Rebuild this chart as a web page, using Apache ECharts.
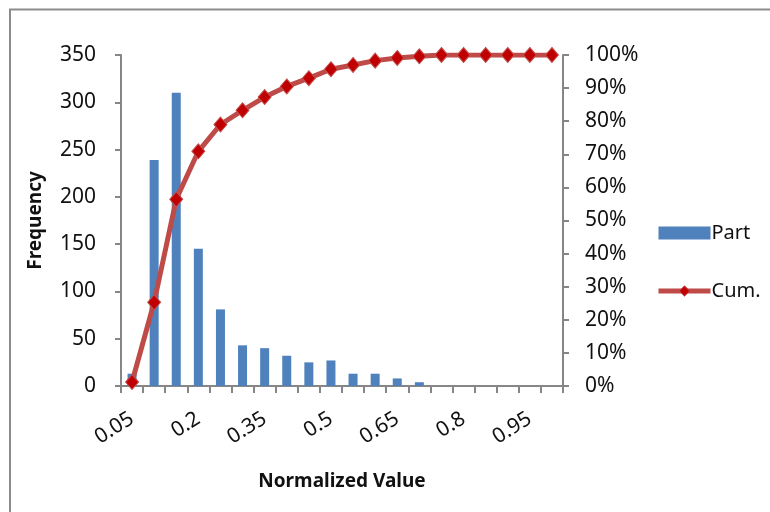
<!DOCTYPE html>
<html>
<head>
<meta charset="utf-8">
<script src="https://cdn.jsdelivr.net/npm/echarts@6/dist/echarts.min.js"></script>
<style>
html,body{margin:0;padding:0;background:#fff;}
#c{width:770px;height:512px;}
</style>
</head>
<body>
<div id="c"></div>
<script>
var categories = ['0.05','0.1','0.15','0.2','0.25','0.3','0.35','0.4','0.45','0.5','0.55','0.6','0.65','0.7','0.75','0.8','0.85','0.9','0.95','1'];
var partValues = [13, 239, 310, 145, 81, 43, 40, 32, 25, 27, 13, 13, 8, 4, 0, 0, 0, 0, 0, 0];
var cumValues = [1.2, 25.3, 56.4, 70.9, 79.0, 83.3, 87.3, 90.5, 93.0, 95.7, 97.0, 98.3, 99.1, 99.6, 100, 100, 100, 100, 100, 100];
var leftTicks = {min: 0, max: 350, interval: 50};
var rightTicks = {min: 0, max: 100, interval: 10};

var FONT = '"Noto Sans", "Open Sans", sans-serif';
var chart = echarts.init(document.getElementById('c'), null, {renderer: 'canvas'});
chart.setOption({
  animation: false,
  backgroundColor: '#fff',
  graphic: [{
    type: 'rect', silent: true,
    shape: {x: 10, y: 9.5, width: 800, height: 600},
    style: {fill: 'none', stroke: '#8c8c8c', lineWidth: 2}
  }],
  grid: {left: 121, right: 207, top: 55, bottom: 126, containLabel: false},
  legend: {
    orient: 'vertical',
    left: 651, top: 218,
    itemWidth: 52, itemHeight: 13, itemGap: 38,
    textStyle: {fontFamily: FONT, fontSize: 20, color: '#111', padding: [0,0,0,-4]},
    data: [
      {name: 'Part', icon: 'rect'},
      {name: 'Cum.', lineStyle: {width: 5, color: '#BE4B48'}, itemStyle: {color: '#C00000', borderColor: '#C0504D', borderWidth: 1}}
    ]
  },
  xAxis: {
    type: 'category',
    data: categories,
    boundaryGap: true,
    name: 'Normalized Value',
    nameLocation: 'middle',
    nameGap: 86,
    nameTextStyle: {fontFamily: FONT, fontWeight: 'bold', fontSize: 19, color: '#111'},
    axisLine: {lineStyle: {color: '#868686', width: 2}},
    axisTick: {show: true, interval: 0, length: 7, lineStyle: {color: '#868686', width: 2}},
    axisLabel: {interval: 2, rotate: 32, fontFamily: FONT, fontSize: 21, color: '#111', margin: 31}
  },
  yAxis: [{
    type: 'value',
    min: leftTicks.min, max: leftTicks.max, interval: leftTicks.interval,
    name: 'Frequency',
    nameLocation: 'middle',
    nameGap: 76,
    nameRotate: 90,
    nameTextStyle: {fontFamily: FONT, fontWeight: 'bold', fontSize: 19, color: '#111'},
    axisLine: {show: true, lineStyle: {color: '#868686', width: 2}},
    axisTick: {show: true, length: 6, lineStyle: {color: '#868686', width: 2}},
    splitLine: {show: false},
    axisLabel: {fontFamily: FONT, fontSize: 21, color: '#111', margin: 25}
  }, {
    type: 'value',
    position: 'right',
    min: rightTicks.min, max: rightTicks.max, interval: rightTicks.interval,
    axisLine: {show: true, lineStyle: {color: '#868686', width: 2}},
    axisTick: {show: true, length: 6, lineStyle: {color: '#868686', width: 2}},
    splitLine: {show: false},
    axisLabel: {fontFamily: FONT, fontSize: 21, color: '#111', margin: 22, formatter: '{value}%'}
  }],
  series: [{
    name: 'Part',
    type: 'bar',
    data: partValues,
    barWidth: 9,
    itemStyle: {color: '#4F81BD'}
  }, {
    name: 'Cum.',
    type: 'line',
    yAxisIndex: 1,
    data: cumValues,
    symbol: 'diamond',
    showAllSymbol: true,
    symbolSize: [13, 15],
    lineStyle: {color: '#BE4B48', width: 5},
    itemStyle: {color: '#C00000', borderColor: '#C0504D', borderWidth: 1}
  }]
});
</script>
</body>
</html>
